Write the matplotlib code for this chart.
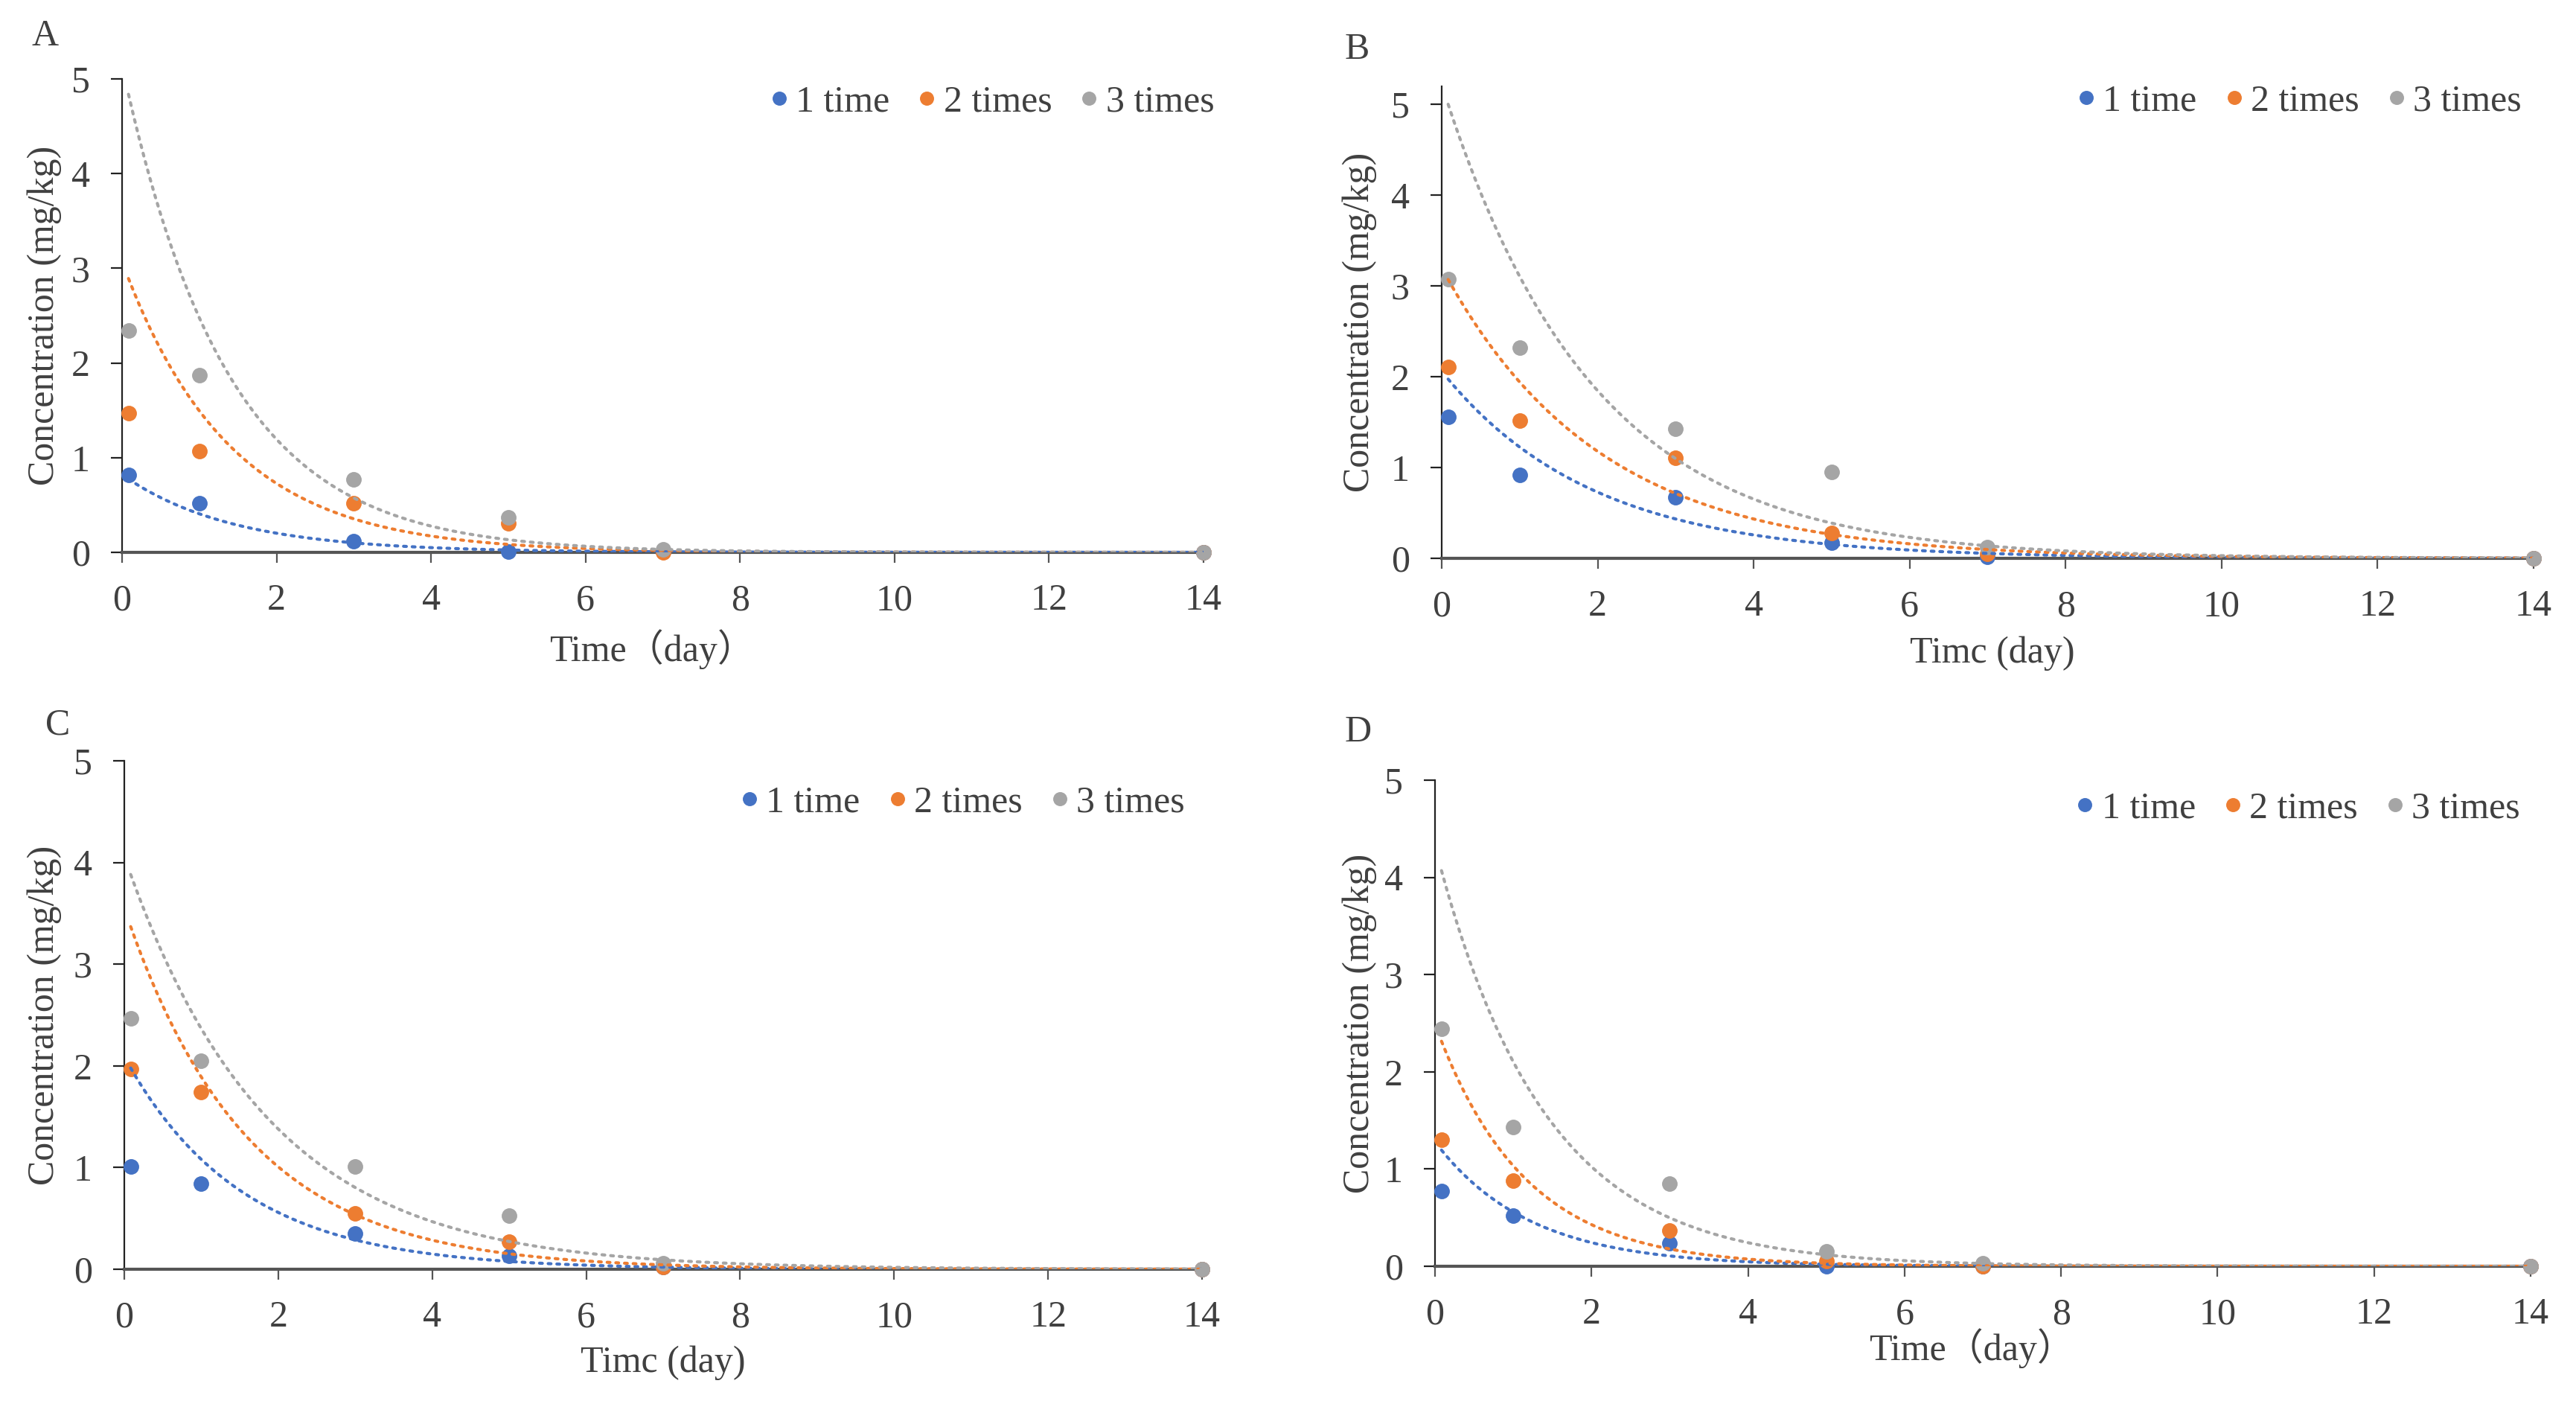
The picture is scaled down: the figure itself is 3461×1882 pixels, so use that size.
import numpy as np
import matplotlib.pyplot as plt

plt.rcParams['font.family'] = ['Liberation Serif', 'Noto Sans CJK SC']

days = [0.083, 1, 3, 5, 7, 14]
series_names = ['1 time', '2 times', '3 times']
colors = ['#4472C4', '#ED7D31', '#A5A5A5']

# measured residues (mg/kg)
a_once = [0.82, 0.52, 0.12, 0.01, 0.01, 0.0]
a_twice = [1.47, 1.07, 0.52, 0.31, 0.0, 0.0]
a_thrice = [2.34, 1.87, 0.77, 0.37, 0.03, 0.0]

b_once = [1.56, 0.92, 0.67, 0.17, 0.02, 0.0]
b_twice = [2.11, 1.52, 1.11, 0.28, 0.05, 0.0]
b_thrice = [3.07, 2.32, 1.43, 0.95, 0.12, 0.0]

c_once = [1.01, 0.84, 0.35, 0.13, 0.02, 0.0]
c_twice = [1.97, 1.74, 0.55, 0.27, 0.02, 0.0]
c_thrice = [2.47, 2.05, 1.01, 0.53, 0.06, 0.0]

d_once = [0.77, 0.52, 0.24, 0.0, 0.0, 0.0]
d_twice = [1.30, 0.88, 0.37, 0.05, 0.0, 0.0]
d_thrice = [2.44, 1.43, 0.85, 0.15, 0.03, 0.0]

# exponential trendlines y = c0 * exp(-k * t)
a_trend = [(0.82, 0.70), (3.07, 0.72), (5.14, 0.73)]
b_trend = [(2.06, 0.52), (3.2, 0.50), (5.22, 0.52)]
c_trend = [(2.09, 0.66), (3.55, 0.63), (4.06, 0.54)]
d_trend = [(1.28, 0.83), (2.49, 0.88), (4.32, 0.72)]

# (letter, data, trend, xlabel, axes rect, ymax, legend anchor, xlabel xy, ylabel xy, letter px)
panels = [
    ('A', [a_once, a_twice, a_thrice], a_trend, 'Time（day）',
     [0.04739, 0.60574, 0.41982, 0.33794], 5.0, (1.010, 0.951), (0.49, -0.204), (-0.0716, 0.5), (61, 49)),
    ('B', [b_once, b_twice, b_thrice], b_trend, 'Timc (day)',
     [0.55966, 0.60149, 0.42387, 0.33709], 5.2, (0.989, 0.967), (0.504, -0.202), (-0.075, 0.5), (1823, 67)),
    ('C', [c_once, c_twice, c_thrice], c_trend, 'Timc (day)',
     [0.04825, 0.09405, 0.41838, 0.36291], 5.0, (0.984, 0.917), (0.50, -0.184), (-0.074, 0.5), (78, 974)),
    ('D', [d_once, d_twice, d_thrice], d_trend, 'Time（day）',
     [0.55707, 0.09617, 0.42531, 0.34697], 5.0, (0.9905, 0.942), (0.49, -0.168), (-0.0686, 0.5), (1825, 984)),
]

W, H = 3461, 1882
fig = plt.figure(figsize=(W / 100, H / 100), dpi=100)
txt = '#404040'
fs = 36

for letter, values, trend, xlabel, rect, ytop, leg_xy, xl_xy, yl_xy, let_xy in panels:
    ax = fig.add_axes(rect)
    t = np.linspace(days[0], 14, 400)
    for vals, col, name in zip(values, colors, series_names):
        ax.plot(days, vals, 'o', color=col, markersize=14, clip_on=False, zorder=3, label=name)
    for (c0, k), col in zip(trend, colors):
        ax.plot(t, c0 * np.exp(-k * t), linestyle=(0, (0.9, 1.9)), color=col,
                linewidth=3.0, dash_capstyle='round', zorder=4)

    ax.set_xlim(0, 14)
    ax.set_ylim(0, ytop)
    ax.set_xticks(range(0, 15, 2))
    ax.set_yticks(range(0, 6))
    for s in ['top', 'right']:
        ax.spines[s].set_visible(False)
    ax.spines['left'].set_color('#222222')
    ax.spines['left'].set_linewidth(1.6)
    ax.spines['bottom'].set_color('#555555')
    ax.spines['bottom'].set_linewidth(3.0)
    ax.tick_params(axis='x', direction='out', length=10, width=1.6, color='#555555',
                   pad=20, labelsize=fs, labelcolor=txt)
    ax.tick_params(axis='y', direction='out', length=11, width=1.6, color='#222222',
                   pad=20, labelsize=fs, labelcolor=txt)

    ax.set_xlabel(xlabel, fontsize=fs, color=txt, va='center')
    ax.xaxis.set_label_coords(*xl_xy)
    ax.set_ylabel('Concentration (mg/kg)', fontsize=fs, color=txt, va='center')
    ax.yaxis.set_label_coords(*yl_xy)

    ax.legend(loc='center right', bbox_to_anchor=leg_xy, ncol=3, frameon=False,
              fontsize=fs, handletextpad=0.05, columnspacing=0.6, handlelength=0.8,
              borderaxespad=0, borderpad=0, markerscale=0.9, labelcolor=txt)

    fig.text(let_xy[0] / W, 1 - let_xy[1] / H, letter, fontsize=fs, color=txt,
             ha='center', va='center')

fig.savefig('out.png', dpi=100)
